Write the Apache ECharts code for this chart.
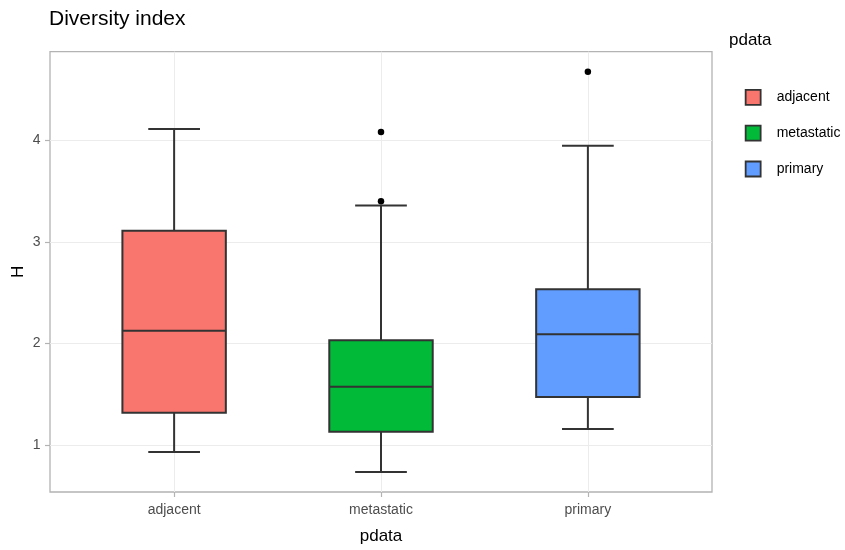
<!DOCTYPE html>
<html>
<head>
<meta charset="utf-8">
<title>Diversity index</title>
<script src="https://cdn.jsdelivr.net/npm/echarts@6/dist/echarts.min.js"></script>
<style>
  html, body { margin: 0; padding: 0; background: #ffffff; }
  #chart { width: 845px; height: 550px; }
</style>
</head>
<body>
<div id="chart"></div>
<script>
// Box statistics of the Shannon diversity index H per sample group
const categories = ['adjacent', 'metastatic', 'primary'];
const lowerWhisker = [0.930, 0.734, 1.157];
const q1 = [1.318, 1.131, 1.472];
const median = [2.124, 1.573, 2.089];
const q3 = [3.108, 2.032, 2.534];
const upperWhisker = [4.111, 3.357, 3.947];

// Points beyond the whiskers
const outlierGroup = ['metastatic', 'metastatic', 'primary'];
const outlierValue = [4.082, 3.400, 4.675];

const yTicks = [1, 2, 3, 4];

const fills = ['#F8766D', '#00BA38', '#619CFF'];
const LINE = '#333333';
const BOX_WIDTH = 0.5;   // in category units
const CAP_WIDTH = 0.25;
const FONT = "'Liberation Sans', Arial, sans-serif";

// Group positions on a continuous axis: 1, 2, 3 with 0.6 padding each side
const xPos = categories.map((c, i) => i + 1);

// y range padded by 5% of the data span
const allVals = lowerWhisker.concat(upperWhisker, outlierValue);
const vMin = Math.min.apply(null, allVals);
const vMax = Math.max.apply(null, allVals);
const pad = (vMax - vMin) * 0.05;

function renderBox(params, api) {
  const x = api.value(0);
  const pLo = api.coord([x, api.value(1)]);
  const pQ1 = api.coord([x, api.value(2)]);
  const pMed = api.coord([x, api.value(3)]);
  const pQ3 = api.coord([x, api.value(4)]);
  const pHi = api.coord([x, api.value(5)]);
  const halfBox = api.size([BOX_WIDTH, 0])[0] / 2;
  const halfCap = api.size([CAP_WIDTH, 0])[0] / 2;
  const cx = pMed[0];
  const lineStyle = { stroke: LINE, lineWidth: 2 };
  return {
    type: 'group',
    children: [
      { type: 'line', shape: { x1: cx, y1: pHi[1], x2: cx, y2: pQ3[1] }, style: lineStyle },
      { type: 'line', shape: { x1: cx, y1: pQ1[1], x2: cx, y2: pLo[1] }, style: lineStyle },
      { type: 'line', shape: { x1: cx - halfCap, y1: pHi[1], x2: cx + halfCap, y2: pHi[1] }, style: lineStyle },
      { type: 'line', shape: { x1: cx - halfCap, y1: pLo[1], x2: cx + halfCap, y2: pLo[1] }, style: lineStyle },
      {
        type: 'rect',
        shape: { x: cx - halfBox, y: pQ3[1], width: halfBox * 2, height: pQ1[1] - pQ3[1] },
        style: { fill: api.visual('color'), stroke: LINE, lineWidth: 2 }
      },
      { type: 'line', shape: { x1: cx - halfBox, y1: pMed[1], x2: cx + halfBox, y2: pMed[1] }, style: lineStyle }
    ]
  };
}

const boxSeries = categories.map((name, i) => ({
  name: name,
  type: 'custom',
  renderItem: renderBox,
  encode: { x: 0, y: [1, 2, 3, 4, 5] },
  itemStyle: { color: fills[i], borderColor: LINE, borderWidth: 1.8 },
  data: [[xPos[i], lowerWhisker[i], q1[i], median[i], q3[i], upperWhisker[i]]],
  z: 2
}));

const outlierSeries = {
  name: 'outliers',
  type: 'scatter',
  symbol: 'circle',
  symbolSize: 6.5,
  itemStyle: { color: '#000000', opacity: 1 },
  data: outlierGroup.map((g, i) => [categories.indexOf(g) + 1, outlierValue[i]]),
  z: 5
};

const chart = echarts.init(document.getElementById('chart'), null, { renderer: 'canvas' });
chart.setOption({
  animation: false,
  backgroundColor: '#ffffff',
  title: [
    {
      text: 'Diversity index',
      left: 49, top: 9, padding: 0,
      textStyle: { fontFamily: FONT, fontSize: 21, fontWeight: 'normal', color: '#000000' }
    },
    {
      text: 'pdata',
      left: 729, top: 32, padding: 0,
      textStyle: { fontFamily: FONT, fontSize: 17, fontWeight: 'normal', color: '#000000' }
    }
  ],
  legend: {
    data: categories,
    orient: 'vertical',
    left: 744.75, top: 89, padding: 0,
    itemWidth: 15, itemHeight: 15, itemGap: 19,
    icon: 'rect',
    itemStyle: { borderColor: LINE, borderWidth: 1.8 },
    textStyle: { fontFamily: FONT, fontSize: 14, color: '#000000', padding: [0, 0, 0, 11] },
    selectedMode: false
  },
  grid: {
    left: 50, right: 133, top: 51.7, bottom: 58,
    outerBoundsMode: 'none',
    containLabel: false,
    show: true, borderColor: '#b3b3b3', borderWidth: 1.3, backgroundColor: 'transparent'
  },
  xAxis: {
    type: 'value',
    min: 0.4, max: 3.6,
    name: 'pdata',
    nameLocation: 'middle',
    nameGap: 36,
    nameMoveOverlap: false,
    nameTextStyle: { fontFamily: FONT, fontSize: 17, color: '#000000' },
    axisLine: { show: false },
    axisTick: { show: true, length: 5, customValues: xPos, lineStyle: { color: '#b3b3b3', width: 1.2 } },
    axisLabel: {
      customValues: xPos,
      margin: 11,
      fontFamily: FONT, fontSize: 14, color: '#4d4d4d',
      formatter: v => categories[Math.round(v) - 1] || ''
    },
    splitLine: { show: true, lineStyle: { color: '#ececec', width: 1 } }
  },
  yAxis: {
    type: 'value',
    min: vMin - pad, max: vMax + pad,
    name: 'H',
    nameLocation: 'middle',
    nameGap: 23,
    nameRotate: 90,
    nameMoveOverlap: false,
    nameTextStyle: { fontFamily: FONT, fontSize: 17, color: '#000000' },
    axisLine: { show: false },
    axisTick: { show: true, length: 5, customValues: yTicks, lineStyle: { color: '#b3b3b3', width: 1.2 } },
    axisLabel: {
      customValues: yTicks,
      margin: 9.5,
      fontFamily: FONT, fontSize: 14, color: '#4d4d4d'
    },
    splitLine: { show: true, lineStyle: { color: '#ececec', width: 1 } }
  },
  series: boxSeries.concat([outlierSeries])
});
</script>
</body>
</html>
